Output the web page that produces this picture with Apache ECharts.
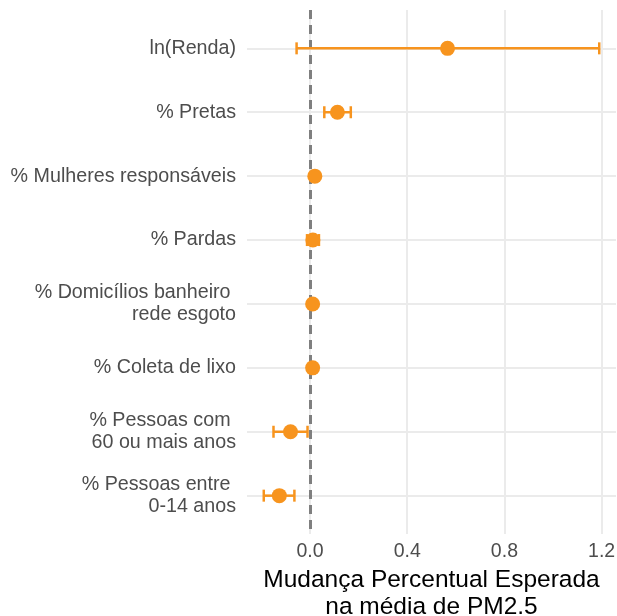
<!DOCTYPE html>
<html>
<head>
<meta charset="utf-8">
<script src="https://cdn.jsdelivr.net/npm/echarts@6/dist/echarts.min.js"></script>
<style>
  html, body { margin: 0; padding: 0; background: #fff; }
  #chart { width: 617px; height: 616px; }
</style>
</head>
<body>
<div id="chart"></div>
<script>
// variáveis do modelo (de cima para baixo)
var categories = [
  'ln(Renda)',
  '% Pretas',
  '% Mulheres responsáveis',
  '% Pardas',
  '% Domicílios banheiro \nrede esgoto',
  '% Coleta de lixo',
  '% Pessoas com \n60 ou mais anos',
  '% Pessoas entre \n0-14 anos'
]
var estimates = [0.566, 0.113, 0.020, 0.012, 0.011, 0.011, -0.080, -0.126]
var lower = [-0.055, 0.059, 0.012, -0.012, 0.007, 0.007, -0.150, -0.190]
var upper = [1.190, 0.168, 0.028, 0.037, 0.015, 0.015, -0.010, -0.064]
var xTicks = [0, 0.4, 0.8, 1.2]
var yTicks = [1, 2, 3, 4, 5, 6, 7, 8]

var chart = echarts.init(document.getElementById('chart'))

var points = estimates.map(function (v, i) { return [v, i + 1] })
var bars = lower.map(function (v, i) { return [v, upper[i], i + 1] })

var orange = '#f7941e'
var font = 'Liberation Sans, Arial, sans-serif'

// barra de erro com "caps"
function renderErrorBar (params, api) {
  var y = api.value(2)
  var a = api.coord([api.value(0), y])
  var b = api.coord([api.value(1), y])
  var h = 6
  var style = { stroke: orange, lineWidth: 2.5, fill: null }
  return {
    type: 'group',
    children: [
      { type: 'line', shape: { x1: a[0], y1: a[1], x2: b[0], y2: b[1] }, style: style },
      { type: 'line', shape: { x1: a[0], y1: a[1] - h, x2: a[0], y2: a[1] + h }, style: style },
      { type: 'line', shape: { x1: b[0], y1: b[1] - h, x2: b[0], y2: b[1] + h }, style: style }
    ]
  }
}

var option = {
  backgroundColor: '#ffffff',
  animation: false,
  grid: {
    left: 247,
    right: 1,
    top: 10,
    bottom: 82,
    containLabel: false,
    outerBoundsMode: 'none'
  },
  xAxis: {
    type: 'value',
    min: -0.259,
    max: 1.259,
    name: 'Mudança Percentual Esperada\nna média de PM2.5',
    nameLocation: 'middle',
    nameGap: 31,
    nameTextStyle: {
      color: '#000',
      fontSize: 24.5,
      fontFamily: font,
      lineHeight: 27
    },
    axisLine: { show: false },
    axisTick: { show: false, customValues: xTicks },
    axisLabel: {
      customValues: xTicks,
      color: '#4d4d4d',
      fontSize: 19.5,
      fontFamily: font,
      margin: 8,
      formatter: function (v) { return v.toFixed(1) }
    },
    splitLine: { show: true, lineStyle: { color: '#ebebeb', width: 2 } }
  },
  yAxis: {
    type: 'value',
    min: 0.4,
    max: 8.6,
    inverse: true,
    axisLine: { show: false },
    axisTick: { show: false, customValues: yTicks },
    axisLabel: {
      customValues: yTicks,
      color: '#4d4d4d',
      fontSize: 19.7,
      fontFamily: font,
      lineHeight: 22,
      align: 'right',
      margin: 11,
      formatter: function (v) { return categories[Math.round(v) - 1] || '' }
    },
    splitLine: { show: true, lineStyle: { color: '#ebebeb', width: 2 } }
  },
  series: [
    {
      type: 'custom',
      renderItem: renderErrorBar,
      encode: { x: [0, 1], y: 2 },
      data: bars,
      z: 3,
      markLine: {
        silent: true,
        symbol: 'none',
        label: { show: false },
        lineStyle: { color: '#7f7f7f', type: [9, 6], width: 3 },
        data: [{ xAxis: 0 }],
        z: 2
      }
    },
    {
      type: 'scatter',
      data: points,
      symbol: 'circle',
      symbolSize: 15,
      itemStyle: { color: orange, opacity: 1 },
      z: 4
    }
  ]
}

chart.setOption(option)
</script>
</body>
</html>
